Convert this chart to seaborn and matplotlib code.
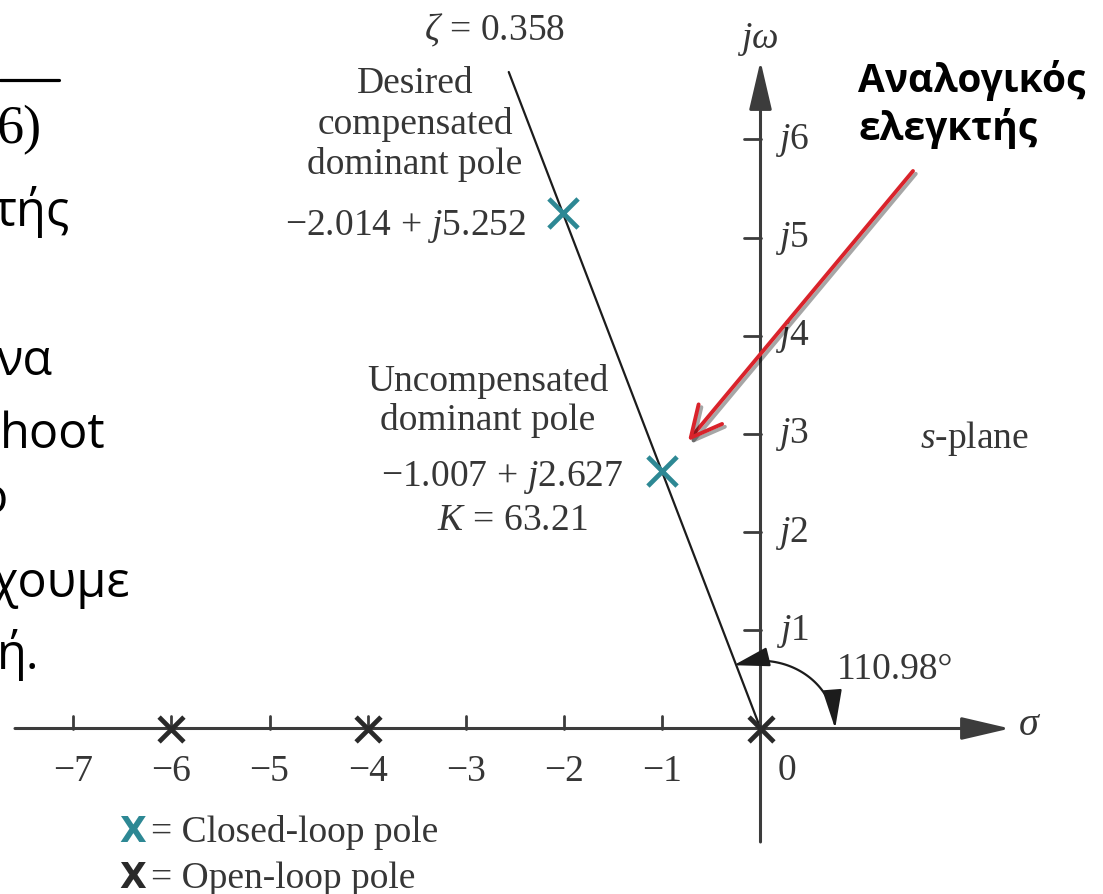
import numpy as np
import matplotlib
matplotlib.use("Agg")
import matplotlib.pyplot as plt
import matplotlib.patheffects as pe
import seaborn as sns

# ---------------- data ----------------
open_loop_re = [-6.0, -4.0, 0.0]
open_loop_im = [0.0, 0.0, 0.0]
closed_loop_re = [-2.014, -1.007]
closed_loop_im = [5.252, 2.627]
zeta = 0.358
zeta_angle_deg = 110.98
gain_K = 63.21
x_ticks = [-7, -6, -5, -4, -3, -2, -1]
x_tick_labels = ["\u22127", "\u22126", "\u22125", "\u22124", "\u22123", "\u22122", "\u22121"]
y_ticks = [1, 2, 3, 4, 5, 6]
y_tick_labels = [r"$j1$", r"$j2$", r"$j3$", r"$j4$", r"$j5$", r"$j6$"]
desired_label = "Desired\ncompensated\ndominant pole"
uncomp_label = "Uncompensated\ndominant pole"
greek_note = ["Αναλογικός", "ελεγκτής"]
legend_items = ["= Closed-loop pole", "= Open-loop pole"]

# ---------------- style ----------------
sns.set_style("white")
plt.rcParams["font.family"] = ["Liberation Serif", "DejaVu Serif"]
plt.rcParams["mathtext.fontset"] = "custom"
plt.rcParams["mathtext.rm"] = "Liberation Serif"
plt.rcParams["mathtext.it"] = "Liberation Serif:italic"
plt.rcParams["mathtext.bf"] = "Liberation Serif:bold"

W, H = 1103, 895
OX, OY, S = 760.5, 729.5, 98.2  # pixel origin and pixels per unit


def P(xp, yp):
    return ((xp - OX) / S, (OY - yp) / S)


fig = plt.figure(figsize=(W / 100, H / 100), dpi=100)
ax = fig.add_axes([0, 0, 1, 1])
ax.set_xlim(P(0, 0)[0], P(W, 0)[0])
ax.set_ylim(P(0, H)[1], P(0, 0)[1])
ax.axis("off")

AX_COL = "#3c3c3c"
TXT_COL = "#363636"
TEAL = "#2d8894"
FS = 27

# axes with arrows
ax.annotate("", xy=P(1010, OY), xytext=P(15, OY),
            arrowprops=dict(arrowstyle="-|>,head_length=1.5,head_width=0.35",
                            color=AX_COL, lw=2.2, mutation_scale=20,
                            shrinkA=0, shrinkB=0))
ax.annotate("", xy=P(OX, 62), xytext=P(OX, 843),
            arrowprops=dict(arrowstyle="-|>,head_length=1.5,head_width=0.35",
                            color=AX_COL, lw=2.2, mutation_scale=20,
                            shrinkA=0, shrinkB=0))

# ticks
for xt, lab in zip(x_ticks, x_tick_labels):
    ax.plot([xt, xt], [0, 0.13], color=AX_COL, lw=2.0)
    ax.text(xt, P(0, 781)[1], lab, ha="center", va="baseline", fontsize=FS, color=TXT_COL)
for yt, lab in zip(y_ticks, y_tick_labels):
    ax.plot([-0.17, 0], [yt, yt], color=AX_COL, lw=2.0)
    ax.text(P(792, 0)[0], yt, lab, ha="center", va="center", fontsize=FS, color=TXT_COL)
ax.text(*P(787, 780), "0", ha="center", va="baseline", fontsize=FS, color=TXT_COL)
ax.text(*P(1030, 726), r"$\sigma$", ha="center", va="center", fontsize=FS + 2, color=TXT_COL)
ax.text(*P(758, 40), r"$j\omega$", ha="center", va="center", fontsize=FS, color=TXT_COL)
ax.text(*P(975, 448), r"$s$-plane", ha="center", va="baseline", fontsize=FS, color=TXT_COL)

# zeta line
theta = np.deg2rad(zeta_angle_deg)
top_y = P(0, 73)[1]
r_end = top_y / np.sin(theta)
ax.plot([0, r_end * np.cos(theta)], [0, r_end * np.sin(theta)], color="#1c1c1c", lw=1.6)
ax.text(*P(495, 40), r"$\zeta\,=\,%.3f$" % zeta, ha="center", va="baseline", fontsize=FS, color=TXT_COL)

# angle arc
rx, ry = 0.76, 0.69
t = np.linspace(np.deg2rad(8), theta - np.deg2rad(12), 100)
ax.plot(rx * np.cos(t), ry * np.sin(t), color="#1c1c1c", lw=1.6)
t0 = np.deg2rad(8)
ax.annotate("", xy=(rx, 0), xytext=(rx * np.cos(t0), ry * np.sin(t0)),
            arrowprops=dict(arrowstyle="-|>,head_length=1.2,head_width=0.3",
                            color="#1c1c1c", lw=1.6, mutation_scale=20, shrinkA=0, shrinkB=0))
t1 = theta - np.deg2rad(12)
ax.annotate("", xy=(rx * np.cos(theta), ry * np.sin(theta)),
            xytext=(rx * np.cos(t1), ry * np.sin(t1)),
            arrowprops=dict(arrowstyle="-|>,head_length=1.1,head_width=0.3",
                            color="#1c1c1c", lw=1.6, mutation_scale=20, shrinkA=0, shrinkB=0))
ax.text(*P(837, 679), "%.2f\u00b0" % zeta_angle_deg, ha="left", va="baseline", fontsize=FS, color=TXT_COL)

# poles
sns.scatterplot(x=open_loop_re, y=open_loop_im, marker="x", s=320,
                linewidth=3.4, color="#2a2a2a", ax=ax, zorder=5)
sns.scatterplot(x=closed_loop_re, y=closed_loop_im, marker="x", s=440,
                linewidth=3.4, color=TEAL, ax=ax, zorder=5)

# annotations
ax.text(*P(415, 174), desired_label, ha="center", va="baseline", multialignment="center",
        fontsize=FS, color=TXT_COL, linespacing=1.2)
ax.text(*P(526, 235), r"$%.3f\,+\,j%.3f$" % (closed_loop_re[0], closed_loop_im[0]),
        ha="right", va="baseline", fontsize=FS, color=TXT_COL)
ax.text(*P(488, 430), uncomp_label, ha="center", va="baseline", multialignment="center",
        fontsize=FS, color=TXT_COL, linespacing=1.14)
ax.text(*P(502, 486), r"$%.3f\,+\,j%.3f$" % (closed_loop_re[1], closed_loop_im[1]),
        ha="center", va="baseline", fontsize=FS, color=TXT_COL)
ax.text(*P(512, 530), r"$K\,=\,%.2f$" % gain_K, ha="center", va="baseline", fontsize=FS, color=TXT_COL)

# legend
xfam = ["Liberation Sans Narrow", "DejaVu Sans"]
ax.text(*P(146, 842), "X", ha="right", va="baseline", fontsize=25, fontweight="bold",
        color=TEAL, family=xfam)
ax.text(*P(146, 888), "X", ha="right", va="baseline", fontsize=25, fontweight="bold",
        color="#2a2a2a", family=xfam)
ax.text(*P(151, 842), legend_items[0], ha="left", va="baseline", fontsize=FS, color=TXT_COL)
ax.text(*P(151, 888), legend_items[1], ha="left", va="baseline", fontsize=FS, color=TXT_COL)

# Greek note and red arrow
gfam = ["Open Sans", "DejaVu Sans"]
ax.text(*P(858, 92), greek_note[0], ha="left", va="baseline", fontsize=28,
        fontweight="bold", family=gfam, color="black")
ax.text(*P(858, 140), greek_note[1], ha="left", va="baseline", fontsize=28,
        fontweight="bold", family=gfam, color="black")
ax.annotate("", xy=P(688, 442), xytext=P(913, 172),
            arrowprops=dict(arrowstyle="->,head_length=1.1,head_width=0.55",
                            color="#d9232b", lw=2.8, mutation_scale=20,
                            shrinkA=0, shrinkB=0,
                            path_effects=[pe.SimpleLineShadow(offset=(2, -2), alpha=0.35),
                                          pe.Normal()]))

# cropped slide text on the left
fig.add_artist(plt.Line2D([0, 59 / W], [1 - 81 / H, 1 - 81 / H], color="black", lw=2.3))
left_fam = ["Open Sans", "DejaVu Sans"]
fig.text(-3 / W, 1 - 143 / H, "6)", ha="left", va="baseline", fontsize=39,
         family=["Liberation Serif", "DejaVu Serif"], color="black")
left_lines = [(-7, 226, "τής"),
              (-3, 375, "να"),
              (0, 448, "hoot"),
              (-22, 513, "ο"),
              (-9, 597, "χουμε"),
              (-3, 669, "ή.")]
for xp, yp, s in left_lines:
    fig.text(xp / W, 1 - yp / H, s, ha="left", va="baseline", fontsize=35,
             family=left_fam, color="black")

fig.savefig("out.png", dpi=100)
